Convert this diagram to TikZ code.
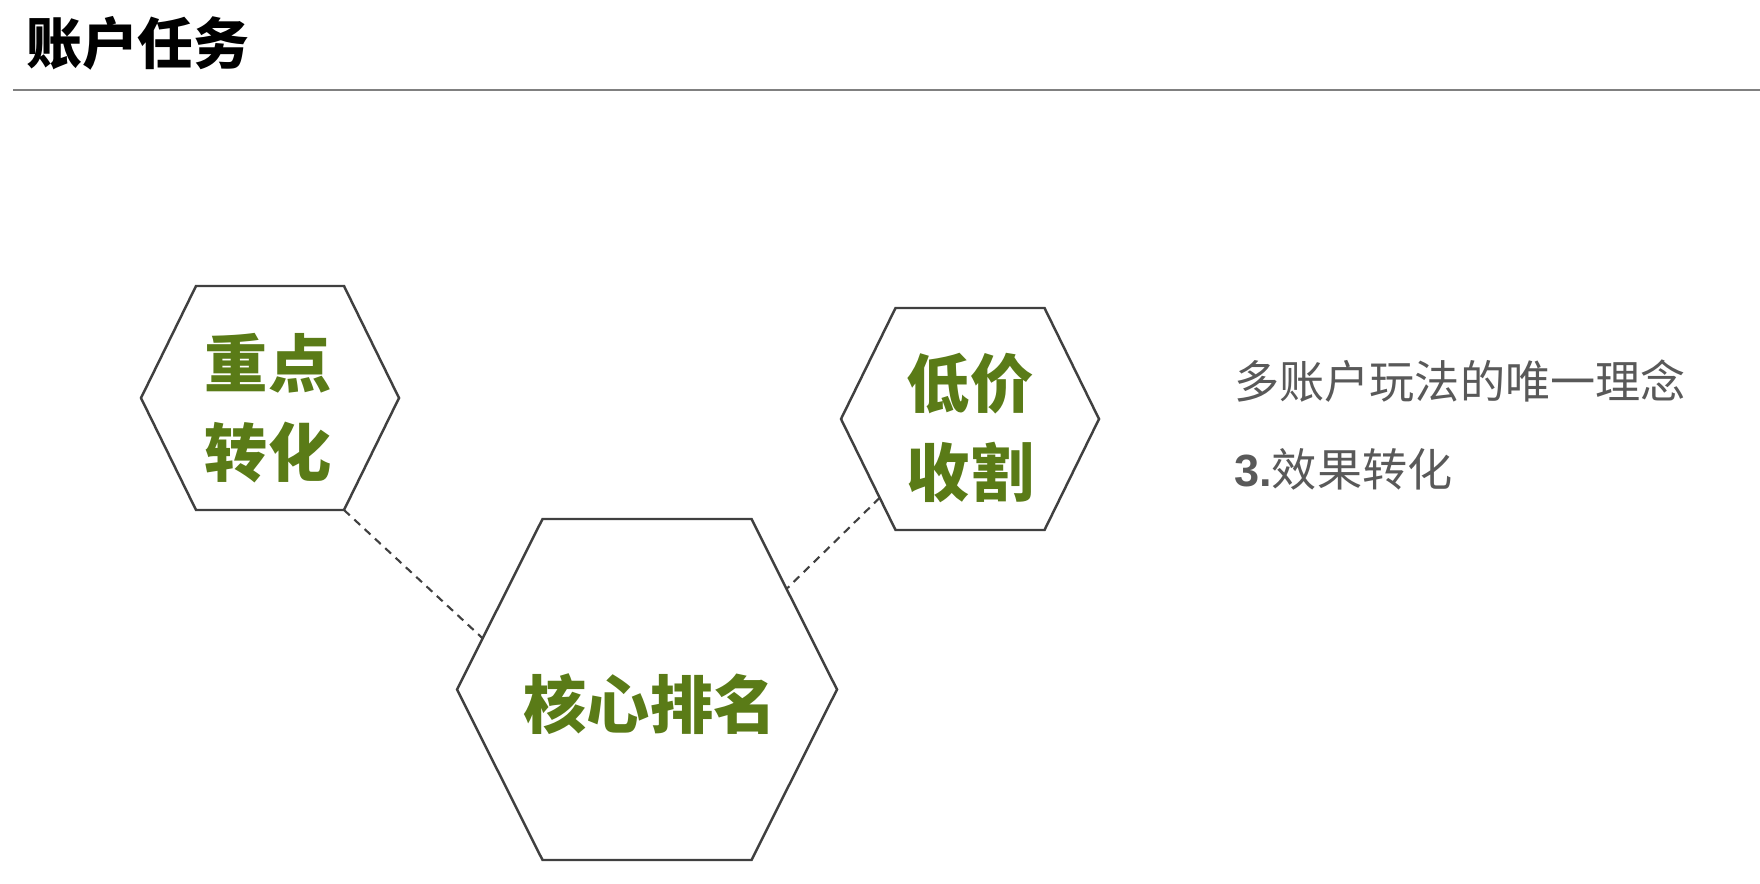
\documentclass[tikz,border=0pt]{standalone}
\usepackage{fontspec}
\setmainfont{Noto Sans CJK SC}
\newfontfamily\latinfont{Liberation Sans}
\usetikzlibrary{calc}
\definecolor{cgreen}{HTML}{5A7B17}
\definecolor{cgrey}{HTML}{595959}
\definecolor{cline}{HTML}{404040}
\tikzset{
  every picture/.style={line width=1.4pt},
  hexa/.style={draw=cline, line join=miter},
  link/.style={draw=cline, dash pattern=on 4.5pt off 3.5pt, line width=1.2pt},
  hexlabel/.style={font=\bfseries\fontsize{36}{51}\selectfont, text=cgreen, align=center, inner sep=0pt},
  title/.style={font=\bfseries\fontsize{31.8}{38}\selectfont, inner sep=0pt},
  note/.style={font=\fontsize{25.7}{50.5}\selectfont, text=cgrey, align=left, inner sep=0pt},
}

\begin{document}
\begin{tikzpicture}[x=0.02cm, y=-0.02cm]
  \useasboundingbox (0,0) rectangle (1760,884);
  \node[title, anchor=west] (ttl) at (25,43) {账户任务};
  \draw[draw=gray, line width=1.3pt] (13,90) coordinate (rule-l) -- (1760,90) coordinate (rule-r);
  \foreach \n/\x/\y/\w/\t/\h in {zd/270/398/129/74/112, dj/970/419/129/74.5/111, hx/647/689.5/190/104.5/170.5} {
    \draw[hexa] (\x-\w,\y) coordinate (\n-l) -- (\x-\t,\y-\h) coordinate (\n-tl)
      -- (\x+\t,\y-\h) coordinate (\n-tr) -- (\x+\w,\y) coordinate (\n-r)
      -- (\x+\t,\y+\h) coordinate (\n-br) -- (\x-\t,\y+\h) coordinate (\n-bl) -- cycle;
  }
  \node[hexlabel] (zd) at (268,408) {重点\\转化};
  \node[hexlabel] (dj) at (970,428) {低价\\收割};
  \node[hexlabel] (hx) at (650,704) {核心排名};
  \draw[link] (zd-br) -- ($(hx-tl)!0.7!(hx-l)$);
  \draw[link] ($(dj-l)!0.71!(dj-bl)$) -- ($(hx-tr)!0.41!(hx-r)$);
  \node[note, anchor=west] (idea) at (1233,425) {多账户玩法的唯一理念\\{\latinfont\bfseries 3.}效果转化};
\end{tikzpicture}
\end{document}
